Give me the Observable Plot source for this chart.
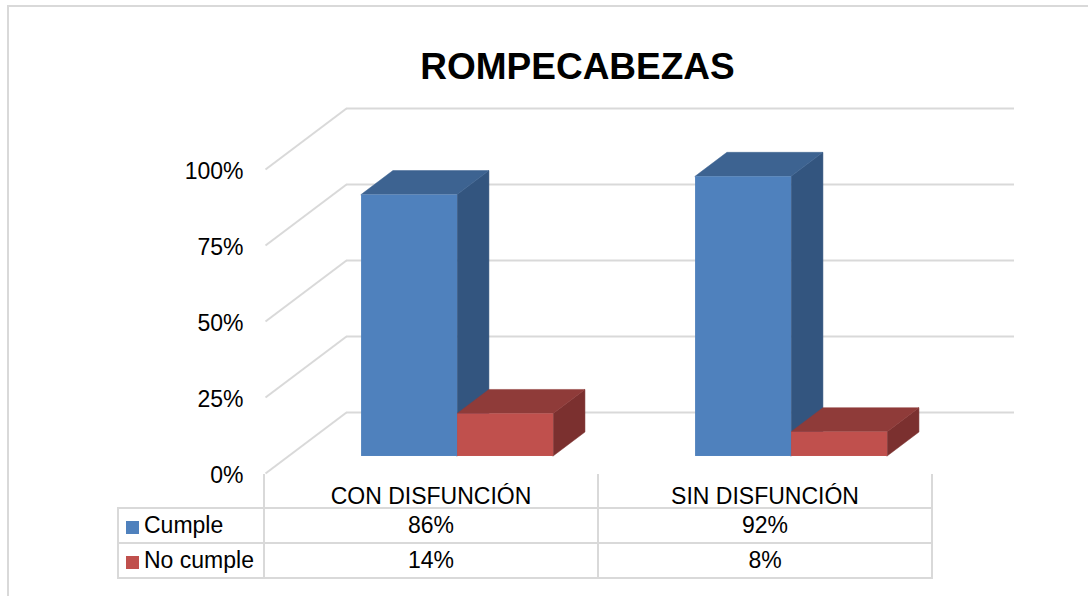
<!DOCTYPE html>
<html>
<head>
<meta charset="utf-8">
<script src="https://cdn.jsdelivr.net/npm/d3@7"></script>
<script src="https://cdn.jsdelivr.net/npm/@observablehq/plot@0.6"></script>
<style>
html, body { margin: 0; padding: 0; background: #fff; width: 1088px; height: 596px; overflow: hidden; }
#chart { position: absolute; left: 0; top: 0; }
#frame { position: absolute; left: 7px; top: 5px; width: 1200px; height: 700px; border: 2px solid #D9D9D9; box-sizing: border-box; pointer-events: none; }
#tbl { position: absolute; left: 117px; top: 474px; border-collapse: collapse; table-layout: fixed;
       font-family: "Liberation Sans", Arial, sans-serif; font-size: 23px; color: #000; }
#tbl td { border: 2px solid #D9D9D9; padding: 0; text-align: center; height: 33px; line-height: 33px; white-space: nowrap; overflow: visible; }
#tbl td.hdr { border-top: none; padding-top: 11px; height: 22px; line-height: 22px; }
#tbl td.corner { border-top: none; border-left: none; padding-top: 11px; height: 22px; line-height: 22px; }
#tbl td.leg { text-align: left; padding-left: 7px; }
#tbl .sw { display: inline-block; width: 13px; height: 13px; margin-right: 5px; vertical-align: -1px; }
</style>
</head>
<body>
<div id="chart"></div>
<table id="tbl"></table>
<div id="frame"></div>
<script>
// ---- data ----
const title = "ROMPECABEZAS";
const categories = ["CON DISFUNCIÓN", "SIN DISFUNCIÓN"];
const seriesNames = ["Cumple", "No cumple"];
const cumple = [0.86, 0.92];
const noCumple = [0.14, 0.08];
const yTicks = [0, 0.25, 0.5, 0.75, 1];
const tickLabels = ["0%", "25%", "50%", "75%", "100%"];

// ---- styling ----
const frontColors = ["#4F81BD", "#C0504D"];
const topColors = ["#3D6391", "#8F3B39"];
const sideColors = ["#33557F", "#7B302F"];
const gridColor = "#D9D9D9";
const FONT = "'Liberation Sans', Arial, sans-serif";

// oblique 3D projection (full depth offset, in data units)
const DX = 0.2425, DY = 0.2007;
const D0 = 0.279, D1 = 0.672;       // bar depth extent
const BAR_START = 0.22, BAR_W = 0.2875;

const values = [cumple, noCumple];
const bars = [];
seriesNames.forEach((s, si) => categories.forEach((c, ci) => {
  const v = values[si][ci];
  const xl = ci + BAR_START + si * BAR_W;
  bars.push({id: s + "|" + c, si, ci, v, xl, xr: xl + BAR_W});
}));

const fronts = bars.map(b => ({
  x1: b.xl + D0 * DX, x2: b.xr + D0 * DX, y1: D0 * DY, y2: b.v + D0 * DY, fill: frontColors[b.si]
}));
const sides = bars.flatMap(b => [D0, D1].map(d => ({
  id: b.id, x: b.xr + d * DX, y1: d * DY, y2: b.v + d * DY, fill: sideColors[b.si]
})));
const tops = bars.flatMap(b => [D0, D1].map(d => ({
  id: b.id, y: b.v + d * DY, x1: b.xl + d * DX, x2: b.xr + d * DX, fill: topColors[b.si]
})));

const chart = Plot.plot({
  width: 1088,
  height: 596,
  margin: 0,
  x: {type: "linear", domain: [0, categories.length], range: [265, 933], axis: null},
  y: {type: "linear", domain: [0, 1], range: [473, 169], axis: null},
  color: {type: "identity"},
  style: {fontFamily: FONT, fontSize: "23px", background: "transparent", color: "#000"},
  marks: [
    // back wall gridlines
    Plot.ruleY(yTicks, {y: d => d + DY, x1: () => DX, x2: () => categories.length + DX, stroke: gridColor, strokeWidth: 2}),
    // side wall gridlines
    Plot.link(yTicks, {x1: () => 0, y1: d => d, x2: () => DX, y2: d => d + DY, stroke: gridColor, strokeWidth: 2}),
    // bars: side faces, top faces, front faces
    Plot.areaY(sides, {x: "x", y1: "y1", y2: "y2", z: "id", fill: "fill", stroke: "fill", strokeWidth: 0.5}),
    Plot.areaX(tops, {y: "y", x1: "x1", x2: "x2", z: "id", fill: "fill", stroke: "fill", strokeWidth: 0.5}),
    Plot.rect(fronts, {x1: "x1", x2: "x2", y1: "y1", y2: "y2", fill: "fill"}),
    // tick labels
    Plot.text(yTicks, {x: () => 0, y: d => d, text: (d, i) => tickLabels[i], textAnchor: "end", dx: -22, dy: 2, fontSize: 23, fill: "#000"}),
    // title
    Plot.text([title], {frameAnchor: "top-left", dx: 577, dy: 67, textAnchor: "middle", lineAnchor: "middle", fontSize: 37, fontWeight: "bold", fill: "#000"})
  ]
});
document.getElementById("chart").appendChild(chart);

// ---- data table ----
const fmt = d3.format(".0%");
const xs = chart.scale("x");
const colW = xs.apply(1) - xs.apply(0);
const tbl = document.getElementById("tbl");
let html = `<colgroup><col style="width:146px">` + categories.map(() => `<col style="width:${colW}px">`).join("") + `</colgroup>`;
html += `<tr><td class="corner"></td>` + categories.map(c => `<td class="hdr">${c}</td>`).join("") + `</tr>`;
seriesNames.forEach((s, si) => {
  html += `<tr><td class="leg"><span class="sw" style="background:${frontColors[si]}"></span>${s}</td>` +
    values[si].map(v => `<td>${fmt(v)}</td>`).join("") + `</tr>`;
});
tbl.innerHTML = html;
tbl.style.left = (xs.apply(0) - 148) + "px";
</script>
</body>
</html>
